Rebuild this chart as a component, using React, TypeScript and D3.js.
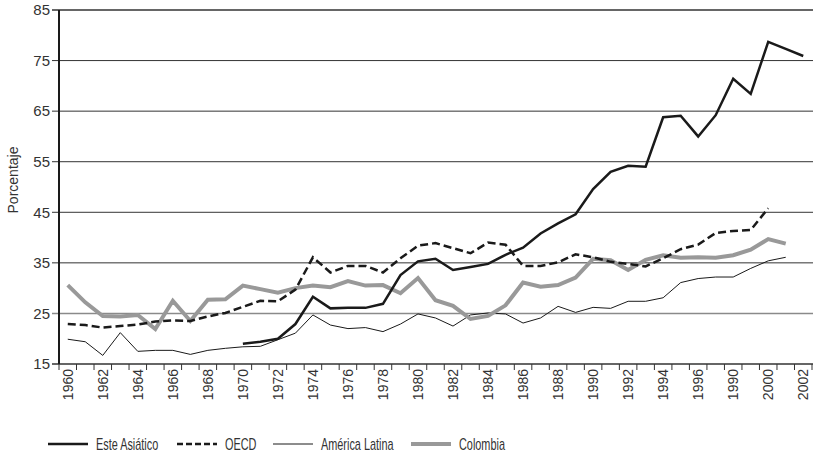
import { useEffect, useRef } from "react";
import * as d3 from "d3";

const years = [
  1960, 1961, 1962, 1963, 1964, 1965, 1966, 1967, 1968, 1969,
  1970, 1971, 1972, 1973, 1974, 1975, 1976, 1977, 1978, 1979,
  1980, 1981, 1982, 1983, 1984, 1985, 1986, 1987, 1988, 1989,
  1990, 1991, 1992, 1993, 1994, 1995, 1996, 1997, 1998, 1999,
  2000, 2001, 2002,
];

// every other year is labelled (the "1990" at 1998 is as printed in the source)
const tickYears = [1960, 1962, 1964, 1966, 1968, 1970, 1972, 1974, 1976, 1978, 1980,
  1982, 1984, 1986, 1988, 1990, 1992, 1994, 1996, 1998, 2000, 2002];
const tickLabels = ["1960", "1962", "1964", "1966", "1968", "1970", "1972", "1974", "1976", "1978", "1980",
  "1982", "1984", "1986", "1988", "1990", "1992", "1994", "1996", "1990", "2000", "2002"];

const yTicks = [15, 25, 35, 45, 55, 65, 75, 85];

const esteAsiatico = [
  null, null, null, null, null, null, null, null, null, null,
  19.0, 19.4, 20.0, 22.9, 28.3, 26.0, 26.1, 26.1, 26.9, 32.6,
  35.3, 35.8, 33.6, 34.2, 34.8, 36.6, 38.0, 40.8, 42.8, 44.6,
  49.6, 53.0, 54.2, 54.0, 63.8, 64.1, 60.0, 64.2, 71.4, 68.4,
  78.7, 77.3, 75.9,
];
const oecd = [
  22.9, 22.7, 22.2, 22.5, 22.8, 23.4, 23.6, 23.5, 24.4, 25.1,
  26.3, 27.5, 27.4, 29.7, 36.1, 33.1, 34.4, 34.4, 33.1, 35.9,
  38.4, 38.9, 37.9, 36.9, 39.0, 38.6, 34.4, 34.4, 35.1, 36.7,
  36.1, 35.2, 34.8, 34.3, 35.9, 37.7, 38.6, 40.9, 41.3, 41.5,
  45.8, null, null,
];
const americaLatina = [
  19.9, 19.4, 16.7, 21.2, 17.5, 17.7, 17.7, 16.9, 17.7, 18.1,
  18.4, 18.5, 19.8, 21.1, 24.7, 22.7, 22.0, 22.2, 21.4, 22.9,
  24.9, 24.1, 22.5, 24.7, 25.1, 24.9, 23.1, 24.1, 26.4, 25.2,
  26.2, 26.0, 27.4, 27.4, 28.1, 31.1, 31.9, 32.2, 32.2, 33.9,
  35.4, 36.1, null,
];
const colombia = [
  30.6, 27.2, 24.5, 24.4, 24.7, 21.9, 27.5, 23.5, 27.7, 27.8,
  30.5, 29.8, 29.1, 30.0, 30.5, 30.2, 31.4, 30.5, 30.6, 29.0,
  32.0, 27.6, 26.5, 23.9, 24.5, 26.6, 31.1, 30.3, 30.6, 32.1,
  35.8, 35.5, 33.6, 35.6, 36.5, 36.0, 36.1, 36.0, 36.5, 37.6,
  39.7, 38.8, null,
];

const series = [
  { name: "América Latina", values: americaLatina, color: "#1a1a1a", width: 1, dash: null },
  { name: "Colombia", values: colombia, color: "#999999", width: 4, dash: null },
  { name: "OECD", values: oecd, color: "#1a1a1a", width: 2.5, dash: "8,4" },
  { name: "Este Asiático", values: esteAsiatico, color: "#1a1a1a", width: 2.5, dash: null },
];
const legendOrder = ["Este Asiático", "OECD", "América Latina", "Colombia"];

const W = 813;
const H = 460;
const FONT = "'Liberation Sans', Arial, sans-serif";

export default function App() {
  const ref = useRef<SVGSVGElement>(null);

  useEffect(() => {
    const svg = d3.select(ref.current);
    svg.selectAll("*").remove();

    const left = 59, right = 812, top = 10, bottom = 364;

    const x = d3.scaleBand<number>().domain(years).range([left, right]).padding(0);
    const y = d3.scaleLinear().domain([15, 85]).range([bottom, top]);
    const cx = (yr: number) => (x(yr) as number) + x.bandwidth() / 2;

    // horizontal grid lines + small left ticks
    const grid = svg.append("g");
    yTicks.forEach((t) => {
      grid.append("line")
        .attr("x1", left - 7).attr("x2", W)
        .attr("y1", y(t)).attr("y2", y(t))
        .attr("stroke", t === 25 ? "#8a8a8a" : "#333")
        .attr("stroke-width", t === 25 ? 1.5 : (t === 85 || t === 15 ? 1.5 : 1));
      grid.append("text")
        .attr("x", 50).attr("y", y(t)).attr("dy", "0.35em")
        .attr("text-anchor", "end")
        .attr("font-family", FONT).attr("font-size", 15)
        .attr("fill", "#333")
        .text(t);
    });

    // y axis line
    svg.append("line")
      .attr("x1", left).attr("x2", left)
      .attr("y1", top).attr("y2", bottom)
      .attr("stroke", "#1a1a1a").attr("stroke-width", 2);

    // x ticks at band edges
    const xt = svg.append("g");
    years.concat([2003]).forEach((yr, i) => {
      const px = i < years.length ? (x(yr) as number) : right;
      xt.append("line")
        .attr("x1", px).attr("x2", px)
        .attr("y1", bottom).attr("y2", bottom + 6)
        .attr("stroke", "#333").attr("stroke-width", 1);
    });
    tickYears.forEach((yr, i) => {
      xt.append("text")
        .attr("transform", `translate(${cx(yr)},${bottom + 5}) rotate(-90)`)
        .attr("dy", "0.35em")
        .attr("text-anchor", "end")
        .attr("font-family", FONT).attr("font-size", 14)
        .attr("fill", "#333")
        .text(tickLabels[i]);
    });

    // y title
    svg.append("text")
      .attr("transform", `translate(18,180) rotate(-90)`)
      .attr("text-anchor", "middle")
      .attr("font-family", FONT).attr("font-size", 14)
      .attr("fill", "#333")
      .text("Porcentaje");

    // lines
    const lines = svg.append("g");
    series.forEach((s) => {
      const line = d3.line<number | null>()
        .defined((d) => d !== null)
        .x((_, i) => cx(years[i]))
        .y((d) => y(d as number));
      lines.append("path")
        .attr("d", line(s.values))
        .attr("fill", "none")
        .attr("stroke", s.color)
        .attr("stroke-width", s.width)
        .attr("stroke-linejoin", "miter")
        .attr("stroke-dasharray", s.dash);
    });

    // legend (source uses a condensed face; squeeze the regular one)
    const legX = [48, 177, 273, 411];
    const leg = svg.append("g");
    legendOrder.forEach((name, i) => {
      const s = series.find((d) => d.name === name)!;
      leg.append("line")
        .attr("x1", legX[i]).attr("x2", legX[i] + 40)
        .attr("y1", 444).attr("y2", 444)
        .attr("stroke", s.color)
        .attr("stroke-width", s.width)
        .attr("stroke-dasharray", s.dash ? "6,3" : null);
      leg.append("text")
        .attr("transform", `translate(${legX[i] + 48},444) scale(0.64,1)`)
        .attr("dy", "0.35em")
        .attr("font-family", FONT).attr("font-size", 17)
        .attr("fill", "#333")
        .text(name);
    });
  }, []);

  return (
    <svg
      ref={ref}
      width={W}
      height={H}
      style={{ position: "absolute", left: 0, top: 0, background: "#fff" }}
    />
  );
}
